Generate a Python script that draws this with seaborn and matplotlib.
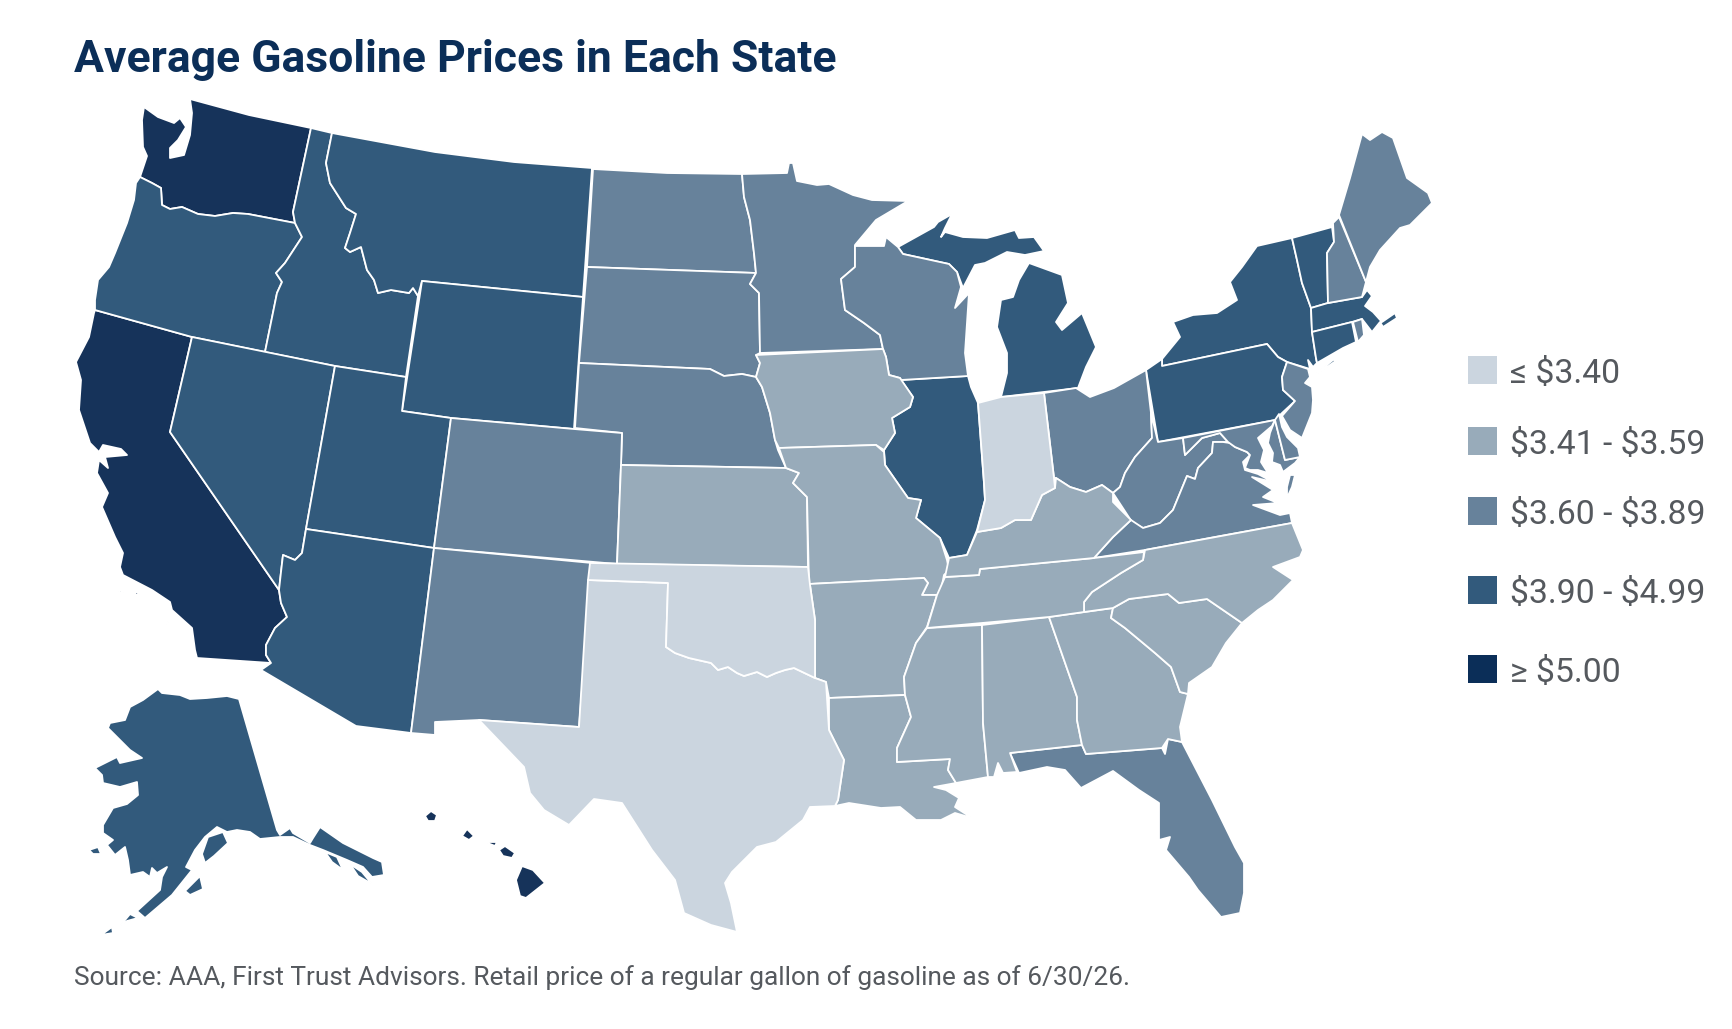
import matplotlib
matplotlib.use("Agg")
import matplotlib.pyplot as plt
from matplotlib.patches import Rectangle
import pandas as pd
import seaborn as sns

#%%
# price buckets, legend order
bin_labels = ["≤ $3.40", "$3.41 - $3.59", "$3.60 - $3.89", "$3.90 - $4.99", "≥ $5.00"]
bin_colors = ["#CBD5DF", "#98ABBA", "#67829B", "#325A7C", "#16335A"]

state_names = ["WA", "CA", "HI", "OR", "ID", "MT", "WY", "NV", "UT", "AZ", "AK", "IL", "MI", "NY", "VT", "MA", "CT", "PA",
               "ND", "SD", "NE", "MN", "WI", "CO", "NM", "OH", "WV", "VA", "MD", "DE", "NJ", "NH", "ME", "RI", "FL",
               "KS", "IA", "MO", "AR", "LA", "MS", "AL", "GA", "SC", "NC", "TN", "KY", "TX", "OK", "IN"]
state_bins = [4, 4, 4, 3, 3, 3, 3, 3, 3, 3, 3, 3, 3, 3, 3, 3, 3, 3,
              2, 2, 2, 2, 2, 2, 2, 2, 2, 2, 2, 2, 2, 2, 2, 2, 2,
              1, 1, 1, 1, 1, 1, 1, 1, 1, 1, 1, 1, 0, 0, 0]

title = "Average Gasoline Prices in Each State"
source = "Source: AAA, First Trust Advisors. Retail price of a regular gallon of gasoline as of 6/30/26."

#%%
# state outlines, in picture pixels
WA = [[(190,99),(249,115),(311,128),(293,212),(295,223),(248,214),(233,213),(215,216),(198,214),(182,207),(170,209),(162,205),
       (161,188),(152,183),(140,177),(144,165),(147,156),(143,147),(142,120),(144,107),(158,117),(174,123),(180,118),(186,127),
       (178,140),(170,148),(170,158),(184,155),(190,135),(192,113)]]
OR = [[(140,177),(152,183),(161,188),(162,205),(170,209),(182,207),(198,214),(215,216),(233,213),(248,214),(295,223),(302,237),
       (285,263),(276,273),(282,282),(277,293),(265,352),(192,337),(95,310),(95,300),(98,280),(109,267),(115,253),(127,223),
       (134,200),(136,183)]]
ID = [[(311,128),(332,133),(326,163),(330,183),(346,208),(356,214),(350,233),(345,248),(350,252),(361,247),(367,270),(374,280),
       (378,293),(391,290),(409,293),(413,288),(418,296),(406,377),(335,366),(265,352),(277,293),(282,282),(276,273),(285,263),
       (302,237),(295,223),(293,212)]]
MT = [[(332,133),(435,152),(514,162),(592,168),(583,297),(422,281),(418,296),(413,288),(409,293),(391,290),(378,293),(374,280),
       (367,270),(361,247),(350,252),(345,248),(350,233),(356,214),(346,208),(330,183),(326,163)]]
WY = [[(422,281),(583,297),(574,429),(451,418),(402,411)]]
NV = [[(192,337),(335,366),(306,529),(302,553),(295,560),(283,555),(281,572),(279,590),(170,432)]]
UT = [[(335,366),(406,377),(402,411),(451,418),(434,548),(306,529)]]
CO = [[(451,418),(574,429),(622,433),(621,465),(617,564),(434,548)]]
NM = [[(434,548),(592,563),(579,727),(479,720),(435,722),(435,735),(411,733)]]
AZ = [[(306,529),(434,548),(411,733),(356,726),(261,670),(271,663),(266,655),(266,645),(275,628),(287,617),(281,603),(279,590),
       (281,572),(283,555),(295,560),(302,553)]]
CA = [[(95,310),(192,337),(170,432),(279,590),(281,603),(287,617),(275,628),(266,645),(266,655),(271,663),(197,658),(195,650),
       (192,628),(172,610),(170,602),(152,590),(123,575),(120,567),(123,553),(115,537),(102,507),(108,493),(97,473),(99,460),
       (108,468),(105,457),(127,455),(121,449),(103,445),(99,452),(90,443),(79,410),(81,380),(76,362),(89,337),(94,313)],
      [(118,590),(124,592),(120,593)], [(134,591),(140,594),(136,595)], [(166,620),(169,624),(167,625)]]
ND = [[(593,169),(667,173),(742,174),(744,197),(750,220),(754,253),(756,273),(587,267)]]
SD = [[(587,267),(756,273),(750,284),(759,293),(760,353),(756,355),(760,363),(756,377),(742,374),(724,376),(710,369),(579,363)]]
NE = [[(579,363),(710,369),(724,376),(742,374),(756,377),(762,387),(770,413),(775,440),(778,450),(786,468),(621,465),(622,433),
       (575,428)]]
KS = [[(621,465),(786,468),(799,473),(793,483),(807,497),(808,567),(617,564)]]
OK = [[(590,563),(808,567),(810,585),(815,620),(815,678),(794,668),(785,670),(776,673),(767,677),(757,672),(744,676),(737,673),
       (728,667),(718,670),(711,663),(689,658),(675,653),(666,647),(668,583),(588,580)]]
TX = [[(588,580),(668,583),(666,647),(675,653),(689,658),(711,663),(718,670),(728,667),(737,673),(744,676),(757,672),(767,677),
       (776,673),(785,670),(794,668),(815,678),(826,682),(829,730),(844,760),(838,800),(835,806),(810,807),(803,820),(776,842),
       (757,847),(741,863),(732,872),(725,883),(731,903),(737,932),(711,925),(684,913),(675,880),(652,850),(622,803),(594,799),
       (569,825),(544,810),(530,793),(524,767),(479,720),(579,727)]]
MN = [[(742,174),(787,173),(789,163),(793,163),(797,181),(817,185),(829,184),(853,195),(872,200),(908,201),(876,220),(855,245),
       (855,267),(841,279),(845,310),(864,323),(880,335),(883,349),(760,353),(759,293),(750,284),(756,273),(754,253),(750,220),
       (744,197)]]
IA = [[(756,355),(883,349),(886,357),(889,375),(900,378),(913,397),(910,407),(892,418),(895,433),(884,450),(876,445),(779,448),
       (775,440),(770,413),(762,387),(756,377),(760,363)]]
MO = [[(779,448),(876,445),(884,452),(885,465),(908,498),(921,500),(916,518),(940,538),(947,560),(949,570),(944,575),(940,595),
       (922,595),(928,583),(924,578),(809,584),(807,497),(793,483),(799,473),(786,468)]]
AR = [[(809,584),(924,578),(928,583),(922,595),(937,595),(927,627),(916,643),(904,677),(905,695),(829,698),(826,682),(815,678),
       (815,620),(810,585)]]
LA = [[(829,698),(905,695),(911,717),(897,748),(897,762),(950,759),(948,770),(956,783),(934,787),(946,790),(959,798),(955,807),
       (972,818),(955,813),(941,820),(916,820),(900,807),(881,808),(849,803),(835,806),(838,800),(844,760),(829,730)]]
MS = [[(927,628),(982,625),(983,723),(988,777),(956,783),(948,770),(950,759),(897,762),(897,748),(911,717),(905,695),(904,677),
       (916,643)]]
AL = [[(982,625),(1049,617),(1077,697),(1077,720),(1082,745),(1010,753),(1017,772),(1003,773),(998,763),(994,777),(988,777),
       (983,723)]]
GA = [[(1049,617),(1113,608),(1111,618),(1125,628),(1155,653),(1171,667),(1180,692),(1188,694),(1180,727),(1182,742),(1168,739),
       (1162,748),(1086,754),(1082,745),(1077,720),(1077,697)]]
FL = [[(1010,753),(1082,745),(1086,754),(1162,748),(1165,754),(1168,739),(1182,742),(1212,800),(1235,847),(1244,863),(1244,893),
       (1240,913),(1221,917),(1198,890),(1189,877),(1166,850),(1170,837),(1159,840),(1159,803),(1139,790),(1113,771),(1081,788),
       (1065,770),(1047,767),(1019,773)]]
SC = [[(1113,608),(1129,599),(1168,594),(1179,603),(1207,599),(1242,623),(1226,643),(1212,667),(1189,683),(1188,694),(1180,692),
       (1171,667),(1155,653),(1125,628),(1111,618)]]
NC = [[(1145,550),(1292,523),(1303,550),(1300,557),(1273,567),(1293,580),(1273,600),(1258,610),(1242,623),(1207,599),(1179,603),
       (1168,594),(1129,599),(1113,608),(1084,612),(1084,602),(1092,592),(1121,573),(1143,560)]]
TN = [[(945,577),(979,575),(980,569),(1094,558),(1144,552),(1143,560),(1121,573),(1092,592),(1084,602),(1084,612),(1049,617),
       (982,623),(927,628),(937,595)]]
KY = [[(945,577),(949,558),(967,555),(977,532),(1001,528),(1015,520),(1031,520),(1042,495),(1055,488),(1056,478),(1070,487),
       (1086,492),(1102,485),(1113,493),(1113,502),(1131,520),(1113,537),(1094,558),(980,569),(979,575)]]
IL = [[(901,380),(968,376),(971,387),(978,403),(984,483),(985,500),(977,530),(967,555),(949,558),(940,538),(916,518),(921,500),
       (908,498),(885,465),(884,450),(895,433),(892,418),(910,407),(913,397)]]
IN = [[(978,403),(1001,397),(1044,393),(1054,478),(1055,488),(1042,495),(1031,520),(1015,520),(1001,528),(977,532),(985,500),
       (984,483)]]
OH = [[(1044,393),(1076,388),(1090,397),(1114,388),(1146,370),(1151,413),(1152,438),(1135,457),(1125,473),(1120,487),(1113,493),
       (1102,485),(1086,492),(1070,487),(1056,478),(1054,478)]]
PA = [[(1146,370),(1162,359),(1162,366),(1267,344),(1278,357),(1287,362),(1282,377),(1283,390),(1295,401),(1282,413),(1275,420),
       (1158,442)]]
NY = [[(1162,359),(1180,337),(1173,322),(1193,315),(1217,313),(1237,300),(1230,282),(1242,267),(1257,246),(1292,238),(1297,260),
       (1302,283),(1311,308),(1312,332),(1316,358),(1317,363),(1313,367),(1308,360),(1310,369),(1287,362),(1278,357),(1267,344),
       (1162,366)],
      [(1312,377),(1333,360),(1337,360),(1323,370)]]
VT = [[(1292,238),(1332,227),(1334,242),(1327,253),(1328,303),(1311,308),(1302,283),(1297,260)]]
NH = [[(1333,223),(1339,217),(1366,282),(1362,297),(1328,303),(1327,253),(1334,242)]]
ME = [[(1339,215),(1350,178),(1362,134),(1370,140),(1382,132),(1393,138),(1407,178),(1428,193),(1432,203),(1410,225),(1400,228),
       (1380,250),(1370,267),(1366,282)]]
MA = [[(1311,308),(1328,303),(1362,297),(1367,290),(1372,296),(1365,306),(1373,312),(1382,322),(1395,313),(1397,318),(1383,327),
       (1380,322),(1372,332),(1362,319),(1352,322),(1312,332)]]
CT = [[(1312,332),(1352,322),(1356,342),(1343,348),(1317,363),(1316,358)]]
RI = [[(1353,322),(1362,319),(1364,335),(1358,342)]]
NJ = [[(1287,362),(1308,369),(1310,377),(1305,383),(1312,387),(1313,400),(1312,413),(1302,438),(1290,430),(1282,416),(1295,401),
       (1283,390),(1282,377)]]
DE = [[(1275,420),(1279,414),(1282,427),(1287,437),(1298,448),(1300,457),(1285,460)]]
MD = [[(1183,438),(1275,420),(1272,426),(1258,438),(1264,450),(1261,462),(1268,473),(1258,470),(1250,470),(1245,468),(1250,455),
       (1247,452),(1235,447),(1228,442),(1220,433),(1213,435),(1202,438),(1185,455)],
      [(1275,420),(1285,460),(1300,457),(1295,463),(1283,472),(1280,465),(1272,462),(1273,453),(1268,443),(1270,433)]]
WV = [[(1151,413),(1158,442),(1183,438),(1185,455),(1202,438),(1213,435),(1220,433),(1228,442),(1223,442),(1213,442),(1212,453),
       (1198,468),(1195,479),(1187,476),(1173,510),(1160,523),(1143,528),(1132,522),(1113,493),(1120,487),(1125,473),(1135,457),
       (1152,438)]]
VA = [[(1131,520),(1143,528),(1160,523),(1173,510),(1187,476),(1195,479),(1198,468),(1212,453),(1213,442),(1223,442),(1230,443),
       (1235,447),(1247,452),(1250,455),(1243,462),(1245,470),(1258,474),(1273,482),(1252,477),(1273,490),(1263,497),(1278,503),
       (1253,505),(1280,515),(1290,513),(1292,523),(1215,537),(1145,550),(1094,558),(1113,537)],
      [(1290,475),(1295,475),(1292,487),(1287,498),(1287,487)]]
WI = [[(855,246),(884,246),(886,237),(898,247),(903,254),(949,264),(957,272),(961,287),(955,308),(969,293),(965,353),(968,376),
       (901,380),(900,378),(889,375),(886,357),(883,349),(880,335),(864,323),(845,310),(841,279),(855,267)]]
MI = [[(898,247),(934,227),(938,222),(952,214),(945,228),(941,237),(945,232),(963,237),(987,238),(1015,230),(1019,238),(1034,237),
       (1044,251),(1025,255),(1007,252),(985,263),(975,265),(963,288),(957,272),(949,264),(903,254)],
      [(1029,263),(1062,275),(1068,303),(1056,322),(1062,330),(1082,313),(1096,347),(1086,367),(1078,388),(1001,397),(1007,373),
       (1007,353),(997,327),(1001,300),(1013,297),(1019,280)]]
AK = [[(239,699),(277,830),(280,835),(290,828),(293,833),(310,843),(313,838),(320,827),(343,843),(373,858),(382,862),(384,875),
       (372,877),(363,867),(347,860),(323,850),(310,845),(293,837),(280,837),(260,839),(250,832),(237,830),(227,832),(217,827),
       (205,837),(195,850),(186,867),(192,870),(172,895),(145,918),(137,911),(160,890),(162,877),(167,867),(157,873),(152,868),
       (150,877),(143,872),(130,875),(128,860),(125,847),(115,855),(107,845),(113,840),(103,833),(103,825),(113,808),(127,804),
       (138,795),(137,782),(120,787),(103,783),(102,775),(95,768),(117,757),(120,763),(142,758),(130,750),(113,733),(108,728),
       (110,723),(125,720),(130,707),(143,700),(158,689),(162,693),(180,695),(190,699),(207,698),(227,696)],
      [(202,854),(208,837),(223,832),(228,843),(214,856),(205,863)],
      [(185,891),(200,876),(203,889),(190,895)],
      [(89,850),(98,847),(101,854),(93,854)],
      [(120,926),(130,914),(138,918),(127,921)],
      [(101,935),(112,927),(113,933)],
      [(325,852),(337,857),(343,870),(332,862)],
      [(350,864),(362,872),(372,884),(358,876)]]
HI = [[(425,816),(431,811),(437,815),(435,821),(428,821)],
      [(462,836),(467,829),(474,836),(469,840)],
      [(485,842),(497,842),(495,846)],
      [(499,850),(505,846),(515,853),(512,858),(503,856)],
      [(522,866),(533,870),(545,883),(526,898),(520,896),(516,880)]]

state_shapes = [WA, CA, HI, OR, ID, MT, WY, NV, UT, AZ, AK, IL, MI, NY, VT, MA, CT, PA,
                ND, SD, NE, MN, WI, CO, NM, OH, WV, VA, MD, DE, NJ, NH, ME, RI, FL,
                KS, IA, MO, AR, LA, MS, AL, GA, SC, NC, TN, KY, TX, OK, IN]

#%%
sns.set_theme(style="white")
plt.rcParams['font.family'] = ['Roboto', 'DejaVu Sans']

states = pd.DataFrame({"state": state_names, "bin": state_bins})
palette = sns.color_palette(bin_colors)

fig, ax = plt.subplots(figsize=(17.33, 10.29), dpi=100)
fig.subplots_adjust(0, 0, 1, 1)
ax.set_xlim(0, 1733)
ax.set_ylim(1029, 0)

for row, shape in zip(states.itertuples(), state_shapes):
    for part in shape:
        xs, ys = zip(*part)
        ax.fill(xs, ys, facecolor=palette[row.bin], edgecolor="white", linewidth=1.3, joinstyle="round")

# legend rows are not evenly spaced in the original, so no ax.legend here
legend_tops = [356, 427, 497, 576, 655]
for top, label, color in zip(legend_tops, bin_labels, bin_colors):
    if label.startswith("≥"):
        color = "#0B2E58"
    ax.add_patch(Rectangle((1468, top), 29, 28, facecolor=color, edgecolor="none"))
    ax.text(1510, top + 27, label, fontsize=24.3, color="#55595E", va="baseline", parse_math=False)

ax.text(74, 72, title, fontsize=32, fontweight="bold", color="#0B2E58", va="baseline")
ax.text(74, 985, source, fontsize=18.9, color="#55595E", va="baseline", parse_math=False)

ax.axis("off")
fig.savefig("out.png", dpi=100)
